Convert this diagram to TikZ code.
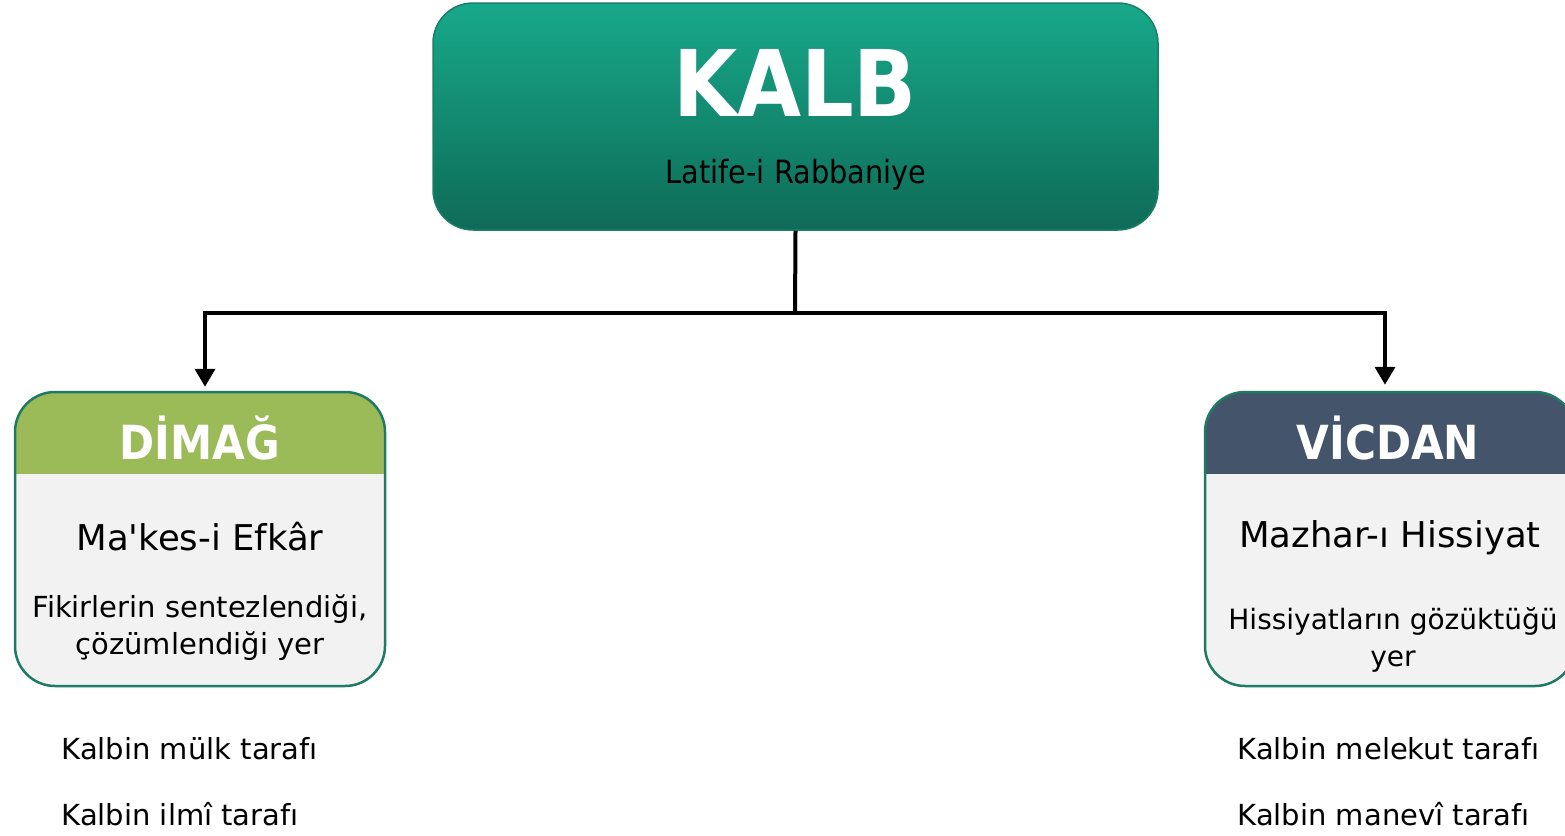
\documentclass[tikz,border=0pt]{standalone}
\usepackage{fontspec}
\setmainfont{DejaVu Sans}[Ligatures=TeXOff]
\newfontfamily\condfont{DejaVu Sans Condensed}[BoldFont={DejaVu Sans Condensed Bold}, Ligatures=TeXOff]
\usepackage{tikz}
\usetikzlibrary{arrows.meta, calc, positioning}

\definecolor{kalbtop}{HTML}{17A98A}
\definecolor{kalbbottom}{HTML}{0E6B57}
\definecolor{kalbedge}{HTML}{1B7F69}
\definecolor{dimaggreen}{HTML}{9BBB59}
\definecolor{vicdanblue}{HTML}{44546A}
\definecolor{bodygray}{HTML}{F2F2F2}
\definecolor{boxedge}{HTML}{1E7A62}

\tikzset{
  kalbbox/.style={rounded corners=40pt, draw=kalbedge, line width=1.5pt,
    top color=kalbtop, bottom color=kalbbottom,
    minimum width=725pt, minimum height=227pt, inner sep=0pt},
  branchbox/.style={rounded corners=40pt, draw=boxedge, line width=2.5pt,
    fill=bodygray, minimum width=370pt, minimum height=294pt, inner sep=0pt,
    path picture={\fill[#1, sharp corners] (path picture bounding box.north west)
      rectangle ([yshift=-82pt]path picture bounding box.north east);}},
  headtext/.style={font=\condfont\fontsize{47}{56}\selectfont\bfseries, text=white},
  nametext/.style={font=\fontsize{35.5}{42}\selectfont},
  desctext/.style={font=\fontsize{29}{37}\selectfont, align=center},
  sidetext/.style={font=\fontsize{29}{34}\selectfont, anchor=west},
  conn/.style={line width=4pt},
  tip/.style={-{Triangle[width=20pt,length=18pt]}},
}

\begin{document}
\begin{tikzpicture}[x=1pt,y=-1pt]
\useasboundingbox (0,0) rectangle (1565,835);
% top box
\node[kalbbox] (kalb) at (795.5,116.5) {};
\node[font=\condfont\fontsize{92}{100}\selectfont\bfseries, text=white] (kalbtitle) at (795,83) {KALB};
\node[font=\condfont\fontsize{32}{38}\selectfont] (kalbsub) at (796,175) {Latife-i Rabbaniye};
% branches
\node[branchbox=dimaggreen] (dimag) at (200,539) {};
\node[branchbox=vicdanblue] (vicdan) at (1390,539) {};
\node[headtext] (dimagtitle) at (200,438) {DİMAĞ};
\node[headtext] (vicdantitle) at (1388,438) {VİCDAN};
\node[nametext] (dimagname) at (200,537) {Ma'kes-i Efkâr};
\node[nametext] (vicdanname) at (1390,538) {Mazhar-ı Hissiyat};
\node[desctext] (dimagdesc) at (200,628) {Fikirlerin sentezlendiği,\\çözümlendiği yer};
\node[desctext, font=\fontsize{28}{37}\selectfont] (vicdandesc) at (1393,640) {Hissiyatların gözüktüğü\\yer};
% connectors
\coordinate (fork) at (795,313);
\draw[conn] (kalb.south) -- (fork);
\draw[conn, tip, shorten >=4pt] (fork) -| ([xshift=5pt]dimag.north);
\draw[conn, tip, shorten >=6pt] (fork) -| ([xshift=-5pt]vicdan.north);
% notes under the boxes
\node[sidetext] (mulk) at (58,749) {Kalbin mülk tarafı};
\node[sidetext] (ilmi) at (58,814) {Kalbin ilmî tarafı};
\node[sidetext] (melekut) at (1234,749) {Kalbin melekut tarafı};
\node[sidetext] (manevi) at (1234,814) {Kalbin manevî tarafı};
\end{tikzpicture}
\end{document}
